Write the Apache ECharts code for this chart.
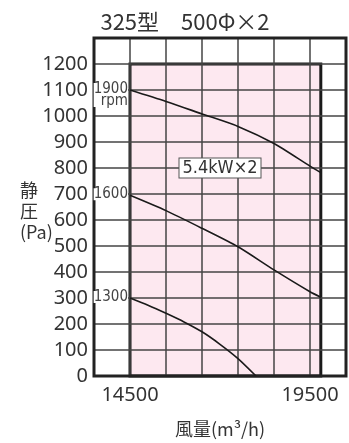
<!DOCTYPE html>
<html>
    <head>
        <meta charset="utf-8">
        <title>chart</title>
        <style>
            * { margin: 0; padding: 0; }
            html, body { width: 100%; height: 100%; background: #fff; }
            #main { width: 349px; height: 443px; }
        </style>
    </head>
    <body>
        <div id="main"></div>
        <script src="https://cdn.jsdelivr.net/npm/echarts@6/dist/echarts.min.js"></script>
        <script type="text/javascript">
        var myChart = echarts.init(document.getElementById('main'));

        // 風量 (m3/h) / 静圧 (Pa)
        var rpm1900 = [[14500, 1100], [15500, 1056], [16500, 1008], [17500, 960], [18500, 894], [19500, 807], [19800, 782]];
        var rpm1600 = [[14500, 695], [15500, 636], [16500, 568], [17500, 497], [18500, 408], [19500, 324], [19800, 303]];
        var rpm1300 = [[14500, 300], [15000, 272], [15500, 241], [16000, 208], [16500, 170], [17000, 122], [17500, 67], [18000, 0]];
        var curveLabels = ['1900\nrpm', '1600', '1300'];
        var xTickLabels = [14500, 19500];
        var areaRange = [[14500, 0], [19800, 1200]];
        var motorText = '5.4kW×2';
        var motorPos = [17000, 800];

        var numFont = "'Noto Sans', sans-serif";
        var narrowFont = "'Liberation Sans Narrow', 'DejaVu Sans Condensed', sans-serif";

        function curve(data) {
            return {
                type: 'line',
                data: data,
                smooth: 0.25,
                showSymbol: false,
                z: 5,
                lineStyle: { color: '#1a1a1a', width: 1.6 }
            };
        }

        option = {
            backgroundColor: '#fff',
            animation: false,
            title: {
                text: '325型　500Φ×2',
                left: 180,
                textAlign: 'center',
                top: 6,
                textStyle: {
                    color: '#333',
                    fontSize: 22,
                    fontWeight: 'normal',
                    fontFamily: "'Noto Sans CJK JP', sans-serif"
                }
            },
            grid: {
                left: 94,
                right: 2,
                top: 38,
                bottom: 56,
                show: true,
                borderColor: '#222',
                borderWidth: 3,
                z: 4
            },
            xAxis: {
                type: 'value',
                min: 13500,
                max: 20500,
                interval: 1000,
                z: 3,
                axisLine: { show: false },
                axisTick: { show: false },
                splitLine: { show: true, lineStyle: { color: '#444', width: 1.5 } },
                axisLabel: {
                    margin: 9,
                    color: '#333',
                    fontSize: 20,
                    fontFamily: numFont,
                    formatter: function (v) {
                        return xTickLabels.indexOf(v) >= 0 ? String(v) : '';
                    }
                },
                name: '風量(m³/h)',
                nameLocation: 'middle',
                nameGap: 44,
                nameTextStyle: {
                    color: '#333',
                    fontSize: 18,
                    fontFamily: "'Noto Sans CJK JP', sans-serif"
                }
            },
            yAxis: {
                type: 'value',
                min: 0,
                max: 1300,
                interval: 100,
                z: 3,
                axisLine: { show: false },
                axisTick: { show: false },
                splitLine: { show: true, lineStyle: { color: '#444', width: 1.5 } },
                axisLabel: {
                    margin: 6,
                    color: '#333',
                    fontSize: 20,
                    fontFamily: numFont,
                    formatter: function (v) {
                        return v > 1200 ? '' : String(v);
                    }
                }
            },
            graphic: [{
                type: 'text',
                left: 20,
                top: 180,
                style: {
                    text: '静\n圧\n(Pa)',
                    fill: '#333',
                    fontSize: 18,
                    lineHeight: 21,
                    align: 'center',
                    x: 13,
                    fontFamily: "'Noto Sans CJK JP', sans-serif"
                }
            }],
            series: [{
                type: 'line',
                data: [],
                z: 1,
                markArea: {
                    silent: true,
                    itemStyle: { color: '#fde8f0', borderColor: '#1a1a1a', borderWidth: 3 },
                    data: [[
                        { coord: areaRange[0] },
                        { coord: areaRange[1] }
                    ]]
                }
            },
            curve(rpm1900),
            curve(rpm1600),
            curve(rpm1300)]
        };
        myChart.setOption(option);

        // labels placed via the chart's own coordinate conversion
        var starts = [rpm1900[0], rpm1600[0], rpm1300[0]];
        var extra = [];
        for (var i = 0; i < starts.length; i++) {
            var p = myChart.convertToPixel({ gridIndex: 0 }, starts[i]);
            extra.push({
                type: 'text',
                x: p[0] - 2,
                y: p[1],
                z: 10,
                style: {
                    text: curveLabels[i],
                    fill: '#444',
                    fontSize: 15,
                    lineHeight: 12,
                    align: 'right',
                    verticalAlign: 'top',
                    y: -7,
                    fontFamily: narrowFont,
                    backgroundColor: '#fff'
                }
            });
        }
        var mp = myChart.convertToPixel({ gridIndex: 0 }, motorPos);
        extra.push({
            type: 'text',
            x: mp[0],
            y: mp[1],
            z: 10,
            style: {
                text: motorText,
                fill: '#333',
                fontSize: 18,
                align: 'center',
                verticalAlign: 'middle',
                fontFamily: narrowFont,
                backgroundColor: '#fff',
                borderColor: '#555',
                borderWidth: 1,
                padding: [1, 3, 0, 3]
            }
        });
        myChart.setOption({ graphic: option.graphic.concat(extra) });
        </script>
    </body>
</html>
